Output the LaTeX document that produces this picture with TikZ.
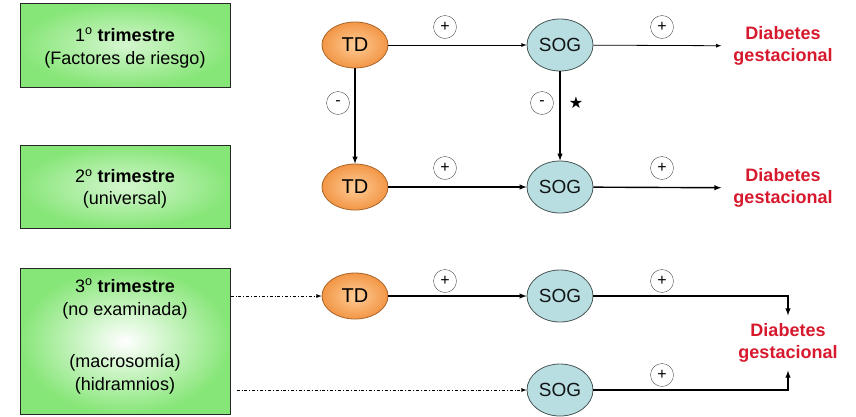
\documentclass[tikz,border=0pt]{standalone}
\usepackage{fontspec}
\setmainfont{Liberation Sans}
\newfontfamily\symfont{DejaVu Sans}
\usetikzlibrary{arrows,shapes.geometric,positioning}

\definecolor{boxgreen}{RGB}{135,230,120}
\definecolor{tdorange}{RGB}{242,150,70}
\definecolor{tdlight}{RGB}{255,205,150}
\definecolor{tdedge}{RGB}{170,100,40}
\definecolor{sogblue}{RGB}{185,222,226}
\definecolor{sogedge}{RGB}{70,85,85}
\definecolor{dgred}{RGB}{215,25,45}

\begin{document}
\begin{tikzpicture}[x=1pt, y=-1pt, >=latex,
   period/.style={rectangle, draw=black!85, line width=1pt, inner color=boxgreen!35!white, outer color=boxgreen, minimum width=210pt, align=center, font=\fontsize{18}{23}\selectfont},
   td/.style={ellipse, draw=tdedge, line width=0.8pt, inner color=tdlight, outer color=tdorange, minimum width=66pt, minimum height=46pt, inner sep=0pt, font=\fontsize{20}{20}\selectfont},
   sog/.style={ellipse, draw=sogedge, line width=0.8pt, fill=sogblue, minimum width=66pt, minimum height=52pt, inner sep=0pt, text=black!75!sogedge, font=\fontsize{19}{19}\selectfont},
   sign/.style={circle, draw=black!70, minimum size=23pt, inner sep=0pt, font=\fontsize{16}{16}\selectfont},
   dg/.style={align=center, text=dgred, inner xsep=12pt, font=\bfseries\fontsize{18}{22}\selectfont},
   link/.style={->, line width=0.8pt},
   strong/.style={->, line width=1.4pt}]

\useasboundingbox (0,0) rectangle (856,416);

% periodos
\node[period, minimum height=84pt] (t1) at (125,45) {};
\node[align=center, font=\fontsize{18}{23}\selectfont] (t1a) at (125,48) {1\textsuperscript{o} \textbf{trimestre}\\(Factores de riesgo)};
\node[period, minimum height=83pt] (t2) at (125,186.5) {};
\node[align=center, font=\fontsize{18}{22}\selectfont] (t2a) at (125,189) {2\textsuperscript{o} \textbf{trimestre}\\(universal)};
\node[period, inner color=white, minimum height=146pt] (t3) at (125,341) {};
\node[align=center, font=\fontsize{18}{23}\selectfont] (t3a) at (125,299) {3\textsuperscript{o} \textbf{trimestre}\\(no examinada)};
\node[align=center, font=\fontsize{18}{23}\selectfont] (t3b) at (125,374) {(macrosomía)\\(hidramnios)};

% pruebas
\node[td] (td1) at (355,45) {TD};
\node[td] (td2) at (355,187) {TD};
\node[td] (td3) at (355,296) {TD};
\node[sog] (sog1) at (560,45) {SOG};
\node[sog] (sog2) at (560,187) {SOG};
\node[sog] (sog3) at (560,296) {SOG};
\node[sog] (sog4) at (560,390) {SOG};

% resultado
\node[dg] (dg1) at (783,46) {Diabetes\\gestacional};
\node[dg] (dg2) at (783,188) {Diabetes\\gestacional};
\node[dg, inner ysep=8pt] (dg3) at (788,343) {Diabetes\\gestacional};

% signos
\node[sign] (p1) at (445,27) {+};
\node[sign] (p2) at (662,27) {+};
\node[sign] (p3) at (445,168) {+};
\node[sign] (p4) at (662,168) {+};
\node[sign] (p5) at (445,281) {+};
\node[sign] (p6) at (662,281) {+};
\node[sign] (p7) at (662,375) {+};
\node[sign] (m1) at (338,103) {-};
\node[sign] (m2) at (542,103) {-};
\node[font=\symfont\fontsize{16}{16}\selectfont] (star) at (576,103) {★};

\draw[link] (td1) -- (sog1);
\draw[link] (sog1) -- (dg1);
\draw[strong] (td1) -- (td2);
\draw[strong] (sog1) -- (sog2);
\draw[strong] (td2) -- (sog2);
\draw[strong] (sog2) -- (dg2);
\draw[strong] (td3) -- (sog3);
\draw[strong] (sog3) -| (dg3.north);
\draw[strong] (sog4) -| (dg3.south);
\draw[link, dash dot] (t3.east |- td3) -- (td3);
\draw[link, dash dot, shorten <=6pt] (t3.east |- sog4) -- (sog4);

\end{tikzpicture}
\end{document}
